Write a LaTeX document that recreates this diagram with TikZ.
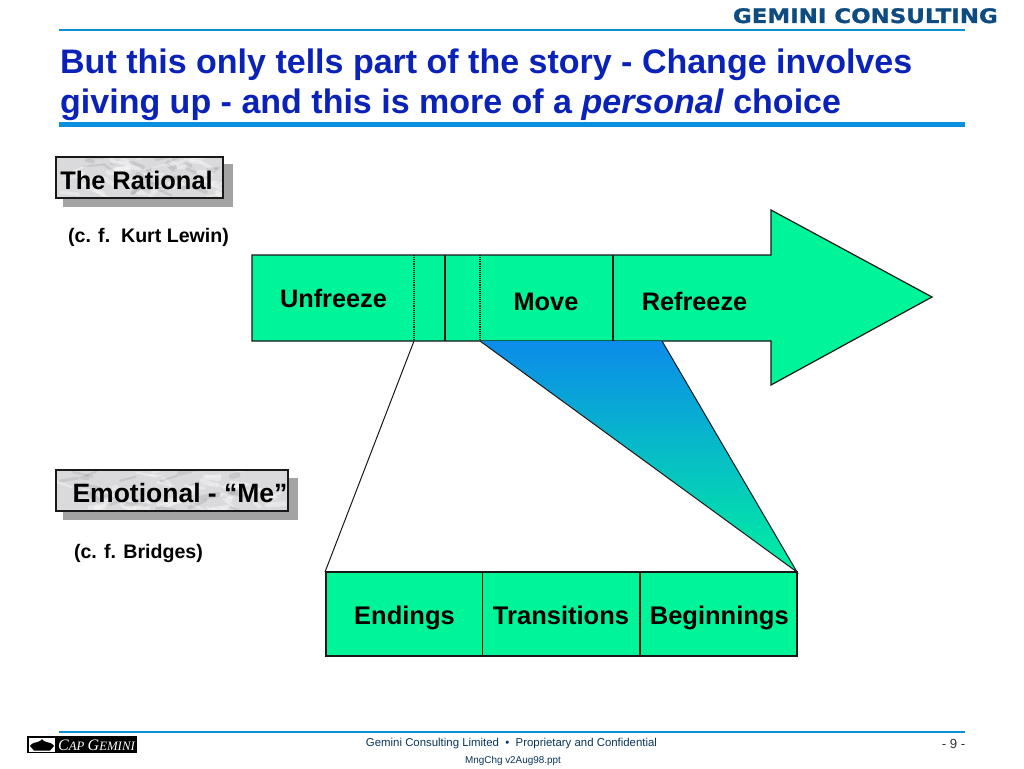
\documentclass[tikz,border=0pt]{standalone}
\usepackage{fontspec}
\setmainfont{Liberation Sans}
\newfontfamily\wideface[BoldFeatures={FakeStretch=1.145,FakeBold=1.2}]{DejaVu Sans}
\newfontfamily\capface{Liberation Serif}
\usetikzlibrary{calc}
\definecolor{arrowgreen}{HTML}{00F598}
\definecolor{ruleblue}{HTML}{0A8FDC}
\definecolor{titleblue}{HTML}{0A22B8}
\definecolor{logoblue}{HTML}{0E4B80}
\definecolor{shadowgrey}{HTML}{A3A3A3}
\definecolor{marble}{HTML}{DADADD}
\definecolor{triblue}{HTML}{0C8CEA}
\definecolor{trigreen}{HTML}{00F0A0}
\pgfmathsetseed{4217}
\newcommand{\marblefill}[4]{% x0,y0,x1,y1
  \fill[marble] (#1,#2) rectangle (#3,#4);
  \begin{scope}
  \clip (#1,#2) rectangle (#3,#4);
  \foreach \n in {1,...,70}{
    \pgfmathsetmacro{\sx}{#1+rnd*(#3-#1)}
    \pgfmathsetmacro{\sy}{#2+rnd*(#4-#2)}
    \pgfmathsetmacro{\dx}{6+rnd*14}
    \pgfmathsetmacro{\dy}{-9+rnd*18}
    \pgfmathsetmacro{\wd}{1.5+rnd*4}
    \pgfmathsetmacro{\kind}{rnd}
    \ifdim\kind pt<0.72pt
      \draw[white,opacity=.36,line width=\wd pt,line cap=round] (\sx,\sy) -- ++(\dx,\dy);
    \else
      \draw[black,opacity=.08,line width=\wd pt,line cap=round] (\sx,\sy) -- ++(\dx,\dy);
    \fi
  }
  \end{scope}
}
\tikzset{
  x=1pt,y=-1pt,
  labelbox/.style={draw=black!90,line width=1.3pt,inner sep=0pt},
  labeltext/.style={inner sep=0pt,font=\fontsize{#1}{#1}\selectfont\bfseries,text=black},
  titletext/.style={anchor=base west,inner sep=0pt,text=titleblue,font=\fontsize{34}{34}\selectfont\bfseries},
  bigbox/.style={draw=black!90,line width=1.8pt,fill=arrowgreen,minimum width=157pt,minimum height=84pt,inner sep=0pt,text height=22pt,text depth=2pt,font=\fontsize{25.5}{25.5}\selectfont\bfseries,text=black},
  cftext/.style={inner sep=0pt,font=\fontsize{19.6}{19.6}\selectfont\bfseries,text=black},
  divider/.style={draw=black!90,line width=1.2pt},
  dotdivider/.style={draw=black!90,line width=1.1pt,densely dotted},
  thinline/.style={draw=black!90,line width=1pt},
}
\begin{document}
\begin{tikzpicture}
\useasboundingbox (0,0) rectangle (1024,768);
\fill[white] (0,0) rectangle (1024,768);

% header
\node[anchor=base east,inner sep=0pt,text=logoblue,font=\fontsize{20}{20}\selectfont\wideface\bfseries] (brand) at (998,23) {GEMINI CONSULTING};
\node[titletext] (title1) at (60,73) {But this only tells part of the story - Change involves};
\node[titletext] (title2) at (60,113) {giving up - and this is more of a \textit{personal} choice};
\coordinate (trA) at (59,124); \coordinate (trB) at (965,124);
\draw[ruleblue,line width=5pt] (trA) -- (trB);
\coordinate (hrA) at (59,30); \coordinate (hrB) at (965,30);
\draw[draw=ruleblue,line width=1.4pt] (hrA) -- (hrB);

% rational label
\fill[shadowgrey] (63,164) rectangle (233,207);
\marblefill{56}{157}{223}{198}
\node[labelbox,minimum width=167pt,minimum height=41pt] (rationalbox) at (139.5,177.5) {};
\node[labeltext=25.4] (rational) at (136.5,180.5) {The Rational};
\node[cftext] (lewin) at (148.5,237) {(c. f.\ \ Kurt Lewin)};

% big arrow
\path[fill=arrowgreen,draw=black!90,line width=1.2pt] (252,255) -- (771,255) -- (771,210) -- (932,297) -- (771,385) -- (771,341) -- (252,341) -- cycle;
\coordinate (d1t) at (414,255); \coordinate (d1b) at (414,341);
\coordinate (d2t) at (445,255); \coordinate (d2b) at (445,341);
\coordinate (d3t) at (480,255); \coordinate (d3b) at (480,341);
\coordinate (d4t) at (613,255); \coordinate (d4b) at (613,341);
\draw[dotdivider] (d1t) -- (d1b);
\draw[divider] (d2t) -- (d2b);
\draw[dotdivider] (d3t) -- (d3b);
\draw[divider] (d4t) -- (d4b);
\node[labeltext=25.3,anchor=base] (unfreeze) at (333.5,307.5) {Unfreeze};
\node[labeltext=25.3,anchor=base] (move) at (546,310.5) {Move};
\node[labeltext=25.3,anchor=base] (refreeze) at (694.5,310.5) {Refreeze};

% wedge
\coordinate (wedgeR) at (662,341);
\coordinate (wedgeB) at (797,572);
\coordinate (leftB) at (325,572);
\begin{scope}
\clip (d3b) -- (wedgeR) -- (wedgeB) -- cycle;
\shade[top color=triblue,bottom color=trigreen] (470,341) rectangle (800,572);
\end{scope}
\draw[thinline] (d3b) -- (wedgeB) -- (wedgeR);
\draw[thinline] (d1b) -- (leftB);

% emotional label
\fill[shadowgrey] (63,478) rectangle (298,520);
\marblefill{56}{470}{288}{511}
\node[labelbox,minimum width=232pt,minimum height=41pt] (emotionalbox) at (172,490.5) {};
\node[labeltext=26.5] (emotional) at (180,493.5) {Emotional - “Me”};
\node[cftext] (bridges) at (138.5,553) {(c. f. Bridges)};

% bottom boxes
\node[bigbox] (endings) at (404.5,614) {Endings};
\node[bigbox] (transitions) at (561,614) {Transitions};
\node[bigbox] (beginnings) at (718.5,614) {\hspace*{1.5pt}Beginnings};

% footer
\coordinate (frA) at (59,732); \coordinate (frB) at (965,732);
\draw[ruleblue,line width=1.3pt] (frA) -- (frB);
\fill[black] (27,736) rectangle (137,753);
\fill[white] (28.5,737.5) rectangle (55,751.5);
\fill[black] (30,746) .. controls (32,742) and (37,743) .. (40,741) .. controls (41,738.5) and (43,738.5) .. (44,741) .. controls (47,743) and (52,742) .. (54,746) .. controls (52,748) and (51,750) .. (50,750.5) -- (34,750.5) .. controls (33,750) and (32,748) .. (30,746) -- cycle;
\node[anchor=west,inner sep=0pt,text=white,font=\fontsize{16}{16}\selectfont\capface\itshape] (capgemini) at (58,745) {C\fontsize{12.8}{12.8}\selectfont AP \fontsize{16}{16}\selectfont G\fontsize{12.8}{12.8}\selectfont EMINI};
\node[inner sep=0pt,text=logoblue!70!black,font=\fontsize{11.4}{11.4}\selectfont] (conf) at (511.5,743.5) {Gemini Consulting Limited\ \ •\ \ Proprietary and Confidential};
\node[inner sep=0pt,text=logoblue!70!black,font=\fontsize{9.9}{9.9}\selectfont] (ppt) at (513,760.5) {MngChg v2Aug98.ppt};
\node[inner sep=0pt,text=black!80,font=\fontsize{13.2}{13.2}\selectfont] (pageno) at (953.5,743.5) {- 9 -};
\end{tikzpicture}
\end{document}
